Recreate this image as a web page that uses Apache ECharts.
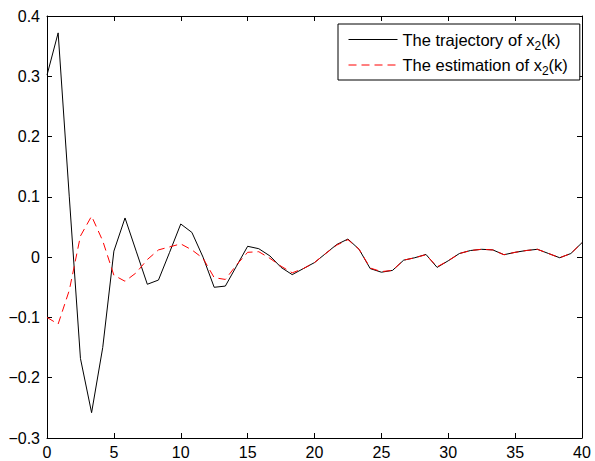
<!DOCTYPE html>
<html>
<head>
<meta charset="utf-8">
<script src="https://cdn.jsdelivr.net/npm/echarts@6/dist/echarts.min.js"></script>
<style>
  html, body { margin: 0; padding: 0; background: #fff; }
  #chart { width: 595px; height: 461px; }
</style>
</head>
<body>
<div id="chart"></div>
<script>
// Sample positions (x axis, time step k)
const xValues = [0, 0.833, 1.667, 2.5, 3.333, 4.167, 5, 5.833, 6.667, 7.5, 8.333, 9.167,
  10, 10.833, 11.667, 12.5, 13.333, 14.167, 15, 15.833, 16.667, 17.5, 18.333, 19.167,
  20, 20.833, 21.667, 22.5, 23.333, 24.167, 25, 25.833, 26.667, 27.5, 28.333, 29.167,
  30, 30.833, 31.667, 32.5, 33.333, 34.167, 35, 35.833, 36.667, 37.5, 38.333, 39.167, 40];

// The trajectory of x2(k)
const trajectory = [0.302, 0.372, 0.10, -0.168, -0.258, -0.150, 0.010, 0.065, 0.010, -0.045, -0.038, 0.008,
  0.055, 0.041, 0.000, -0.050, -0.048, -0.015, 0.018, 0.014, 0.002, -0.017, -0.029, -0.019,
  -0.009, 0.006, 0.021, 0.030, 0.013, -0.019, -0.025, -0.022, -0.005, -0.001, 0.0045, -0.017,
  -0.006, 0.006, 0.011, 0.013, 0.012, 0.004, 0.008, 0.011, 0.013, 0.006, -0.001, 0.006, 0.024];

// The estimation of x2(k)
const estimation = [-0.100, -0.111, -0.055, 0.035, 0.068, 0.027, -0.030, -0.040, -0.026, -0.004, 0.012, 0.017,
  0.022, 0.012, -0.002, -0.034, -0.037, -0.013, 0.008, 0.009, -0.002, -0.015, -0.026, -0.019,
  -0.009, 0.006, 0.020, 0.029, 0.013, -0.018, -0.024, -0.022, -0.005, -0.001, 0.004, -0.016,
  -0.006, 0.006, 0.011, 0.013, 0.012, 0.004, 0.008, 0.011, 0.013, 0.006, -0.001, 0.006, 0.024];

const seriesNames = ['The trajectory of x2(k)', 'The estimation of x2(k)'];
const legendRich = {
  'The trajectory of x2(k)': '{t|The trajectory of x}{s|2}{t|(k)}',
  'The estimation of x2(k)': '{t|The estimation of x}{s|2}{t|(k)}'
};

const xMin = 0, xMax = 40, xStep = 5;
const yMin = -0.3, yMax = 0.4, yStep = 0.1;

const FONT = '"Liberation Sans", Arial, Helvetica, sans-serif';

function fmtY(v) {
  if (Math.abs(v) < 1e-9) return '0';
  const s = Math.abs(v).toFixed(1);
  return (v < 0 ? '\u2212' : '') + s;
}

const chart = echarts.init(document.getElementById('chart'), null, { renderer: 'svg' });

const baseAxisLine = { show: true, onZero: false, lineStyle: { color: '#000', width: 1 } };
const tick = { show: true, inside: true, length: 5, lineStyle: { color: '#000', width: 1 } };

chart.setOption({
  animation: false,
  backgroundColor: '#fff',
  grid: { left: 47, right: 13, top: 16, bottom: 23, containLabel: false },
  xAxis: [
    {
      type: 'value', min: xMin, max: xMax, interval: xStep, position: 'bottom',
      axisLine: baseAxisLine, axisTick: tick, splitLine: { show: false },
      axisLabel: { color: '#000', fontSize: 16, fontFamily: FONT, margin: 6 }
    },
    {
      type: 'value', min: xMin, max: xMax, interval: xStep, position: 'top',
      axisLine: baseAxisLine, axisTick: tick, splitLine: { show: false },
      axisLabel: { show: false }
    }
  ],
  yAxis: [
    {
      type: 'value', min: yMin, max: yMax, interval: yStep, position: 'left',
      axisLine: baseAxisLine, axisTick: tick, splitLine: { show: false },
      axisLabel: { color: '#000', fontSize: 16, fontFamily: FONT, margin: 7, formatter: fmtY }
    },
    {
      type: 'value', min: yMin, max: yMax, interval: yStep, position: 'right',
      axisLine: baseAxisLine, axisTick: tick, splitLine: { show: false },
      axisLabel: { show: false }
    }
  ],
  legend: {
    orient: 'vertical',
    left: 338, top: 24,
    padding: [7, 12, 3, 10],
    itemWidth: 49, itemHeight: 14, itemGap: 5,
    borderColor: '#000', borderWidth: 1, borderRadius: 0,
    backgroundColor: '#fff',
    data: seriesNames,
    itemStyle: { opacity: 0 },
    lineStyle: { width: 1 },
    formatter: name => legendRich[name],
    textStyle: {
      color: '#000', fontFamily: FONT,
      rich: {
        t: { fontSize: 16.5, lineHeight: 24, fontFamily: FONT, color: '#000' },
        s: { fontSize: 12, lineHeight: 12, verticalAlign: 'bottom', fontFamily: FONT, color: '#000' }
      }
    }
  },
  series: [
    {
      name: seriesNames[0], type: 'line', xAxisIndex: 0, yAxisIndex: 0,
      data: xValues.map((x, i) => [x, trajectory[i]]),
      symbol: 'none', smooth: false,
      lineStyle: { color: '#000', width: 1, type: 'solid' },
      itemStyle: { color: '#000' }
    },
    {
      name: seriesNames[1], type: 'line', xAxisIndex: 0, yAxisIndex: 0,
      data: xValues.map((x, i) => [x, estimation[i]]),
      symbol: 'none', smooth: false,
      lineStyle: { color: '#ff0000', width: 1, type: [8, 5] },
      itemStyle: { color: '#ff0000' }
    }
  ]
});
</script>
</body>
</html>
